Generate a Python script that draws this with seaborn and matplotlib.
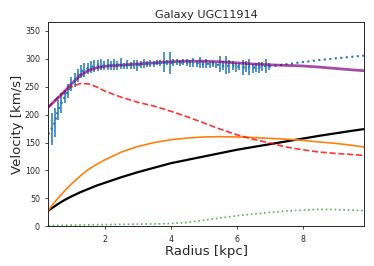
import matplotlib
matplotlib.use("Agg")
import matplotlib.pyplot as plt
import seaborn as sns
import pandas as pd

# observed rotation curve (radius kpc, velocity km/s, error km/s)
r_obs = [0.28, 0.38, 0.48, 0.58, 0.68, 0.78, 0.88, 0.98, 1.08, 1.18,
         1.28, 1.38, 1.48, 1.58, 1.68, 1.78, 1.88, 1.98, 2.08, 2.18,
         2.28, 2.38, 2.48, 2.58, 2.68, 2.78, 2.88, 2.98, 3.08, 3.18,
         3.28, 3.38, 3.48, 3.58, 3.68, 3.78, 3.88, 3.98, 4.08, 4.18,
         4.28, 4.38, 4.48, 4.58, 4.68, 4.78, 4.88, 4.98, 5.08, 5.18,
         5.28, 5.38, 5.48, 5.58, 5.68, 5.78, 5.88, 5.98, 6.08, 6.18,
         6.28, 6.38, 6.48, 6.58, 6.68, 6.78, 6.88, 6.98]
v_obs = [165, 174, 186, 208, 220, 232, 242, 255, 262, 270,
         277, 280, 283, 285, 287, 288, 289, 287, 289, 287,
         290, 288, 291, 287, 289, 288, 290, 288, 289, 291,
         290, 292, 291, 293, 292, 294, 293, 292, 293, 294,
         292, 294, 293, 292, 294, 291, 293, 290, 292, 289,
         291, 288, 290, 287, 289, 286, 288, 285, 286, 284,
         286, 285, 283, 285, 284, 286, 287, 286]
e_obs = [52, 28, 26, 18, 18, 12, 12, 12, 12, 12,
         12, 12, 10, 10, 10, 10, 10, 8, 10, 8,
         10, 8, 10, 6, 8, 6, 8, 10, 6, 8,
         5, 6, 5, 5, 5, 18, 5, 20, 6, 5,
         5, 5, 6, 6, 8, 5, 10, 6, 8, 5,
         5, 5, 14, 8, 16, 12, 8, 8, 6, 14,
         10, 14, 8, 8, 10, 8, 12, 6]

# dotted extension of the data line
r_ext = [6.98, 7.5, 8.0, 8.5, 9.0, 9.5, 9.86]
v_ext = [286, 290, 294, 297.5, 300.5, 303.5, 305.5]

# model components
r_mod = [0.28, 0.4, 0.6, 0.8, 1.0, 1.25, 1.5, 1.75, 2.0, 2.5, 3.0, 3.5, 4.0,
         4.5, 5.0, 5.5, 6.0, 6.5, 7.0, 7.5, 8.0, 8.5, 9.0, 9.5, 9.86]
v_total = [213, 220, 231, 243, 256, 270, 279, 284, 286.5, 288.5, 290.5, 292.5, 294.5,
           295.5, 295.5, 294.5, 292.5, 290.5, 289, 288, 287, 285, 282.5, 280, 278.5]
v_bulge = [213, 220, 233, 242, 250, 255.5, 255, 249.5, 242, 231, 222, 215, 206,
           196, 185, 174, 164, 156, 149, 142, 137, 133, 130.5, 128.5, 127]
v_disk = [28, 38, 52, 65, 77, 90, 102, 111, 119, 133, 143, 150, 155,
          158, 160, 160.5, 160, 159, 157.5, 156, 154, 151, 148.5, 145, 142]
v_halo = [28, 33, 41, 48, 54, 61, 67, 73, 78, 88, 97, 105, 113,
          119, 125, 131, 137, 142, 147, 152, 157, 162, 166.5, 171, 174]
v_gas = [1, 1.5, 1.8, 2, 2.2, 2.5, 2.8, 3, 3.2, 3.6, 4, 4.4, 5,
         7, 11, 15, 19, 22, 25, 27.5, 29, 30.5, 30, 29, 28]

sns.set_style("ticks")

fig = plt.figure(figsize=(3.74, 2.66), dpi=100)
ax = fig.add_axes([0.129, 0.149, 0.844, 0.769])

ax.errorbar(r_obs, v_obs, yerr=e_obs, fmt=":", color="#1f77b4", lw=1.5, elinewidth=1.1)
sns.lineplot(x=r_ext, y=v_ext, ax=ax, color="#1f77b4", lw=1.5, linestyle=":")

models = pd.DataFrame({"r": r_mod, "total": v_total, "bulge": v_bulge,
                       "disk": v_disk, "halo": v_halo, "gas": v_gas})
sns.lineplot(data=models, x="r", y="halo", ax=ax, color="black", lw=1.6)
sns.lineplot(data=models, x="r", y="disk", ax=ax, color="#ff7f0e", lw=1.2)
sns.lineplot(data=models, x="r", y="bulge", ax=ax, color="red", alpha=0.8, lw=1.2, linestyle="--")
sns.lineplot(data=models, x="r", y="gas", ax=ax, color="#2ca02c", alpha=0.8, lw=1.2, linestyle=":")
sns.lineplot(data=models, x="r", y="total", ax=ax, color="purple", alpha=0.7, lw=2.0)

ax.set_xlim(0.28, 9.86)
ax.set_ylim(0, 366)
ax.set_xticks([2, 4, 6, 8])
ax.set_yticks([0, 50, 100, 150, 200, 250, 300, 350])
ax.tick_params(labelsize=5.7, length=2.5, width=0.6)
for s in ax.spines.values():
    s.set_linewidth(0.7)
ax.set_title("Galaxy UGC11914", fontsize=8.1, pad=3)
ax.set_xlabel("Radius [kpc]", fontsize=9.5, labelpad=1)
ax.set_ylabel("Velocity [km/s]", fontsize=9.5, labelpad=1)

fig.savefig("out.png", dpi=100)
